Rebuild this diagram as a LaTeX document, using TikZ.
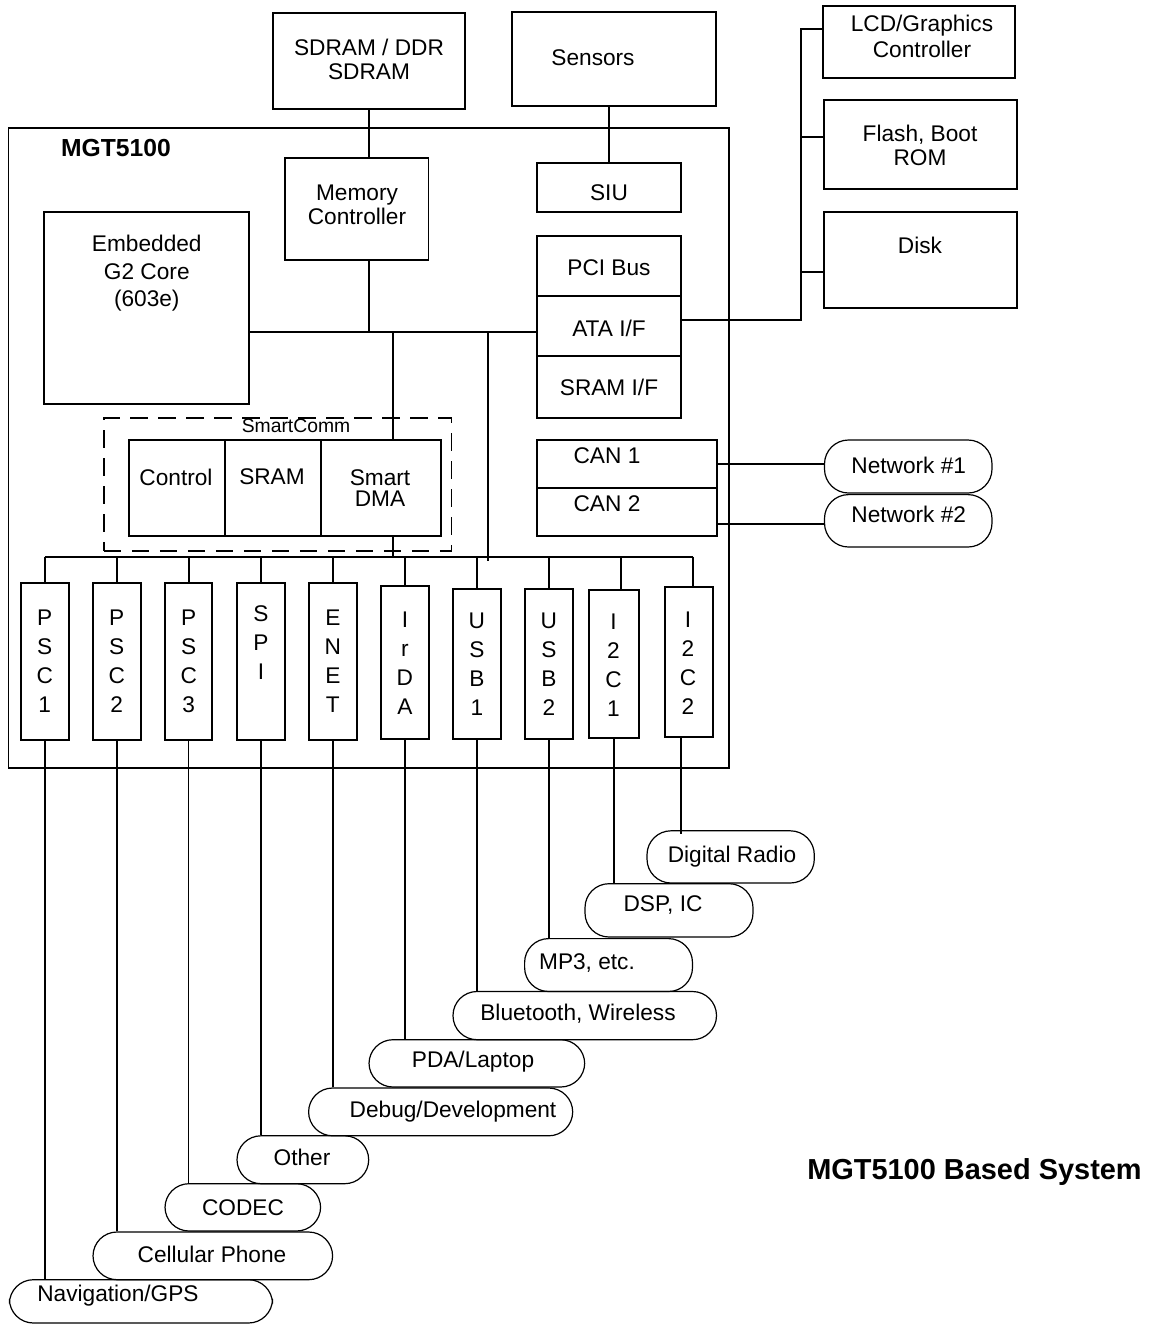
\documentclass[tikz,border=0pt]{standalone}
\usepackage{fontspec}
\setmainfont{Liberation Sans}
\usetikzlibrary{fit}
\begin{document}
\begin{tikzpicture}[x=0.75pt,y=-0.75pt,
  box/.style={draw, line width=1.4pt, inner sep=0pt},
  dbox/.style={draw, line width=1.3pt, inner sep=0pt, dash pattern=on 13pt off 8pt},
  oval/.style={draw, line width=0.9pt, inner sep=0pt, rounded corners=18pt},
  txt/.style={inner sep=0pt, align=center, font=\fontsize{17}{18}\selectfont},
  ltxt/.style={inner sep=0pt, align=center, font=\fontsize{17}{21.75}\selectfont},
  wire/.style={line width=1.4pt},
  twire/.style={line width=1.1pt}]
\useasboundingbox (0,0) rectangle (1151,1325);

% ---------- top external boxes
\node[box, fit={(273,13)(465,109)}] (sdram) {};
\node[txt] (sdram-t) at (369,59) {SDRAM / DDR\\SDRAM};
\node[box, fit={(512,12)(716,106)}] (sensors) {};
\node[txt] (sensors-t) at (593,58) {Sensors};
\node[box, fit={(823,6)(1015,78)}] (lcd) {};
\node[txt, font=\fontsize{17}{19.5}\selectfont] (lcd-t) at (922,36) {LCD/Graphics\\Controller};
\node[box, fit={(824,100)(1017,189)}] (flash) {};
\node[txt] (flash-t) at (920,145.5) {Flash, Boot\\ROM};
\node[box, fit={(824,212)(1017,308)}] (disk) {};
\node[txt] (disk-t) at (920,245) {Disk};

% ---------- MGT5100 chip
\node[box, fit={(8.5,127.7)(729,767.7)}] (chip) {};
\node[inner sep=0pt, font=\fontsize{18.5}{20}\selectfont\bfseries] (chip-t) at (116,148) {MGT5100};

\node[box, fit={(285,158)(428.5,260)}] (memctl) {};
\node[txt] (memctl-t) at (357,205) {Memory\\Controller};
\node[box, fit={(44.4,211.7)(248.7,404)}] (embedded) {};
\node[txt, font=\fontsize{17}{20.6}\selectfont] (embedded-t) at (146.8,273.5) {Embedded\\G2 Core\\(603e)};

\node[box, fit={(537,163)(681,212)}] (siu) {};
\node[txt] (siu-t) at (609,192.7) {SIU};
\node[box, fit={(537,236)(681,296)}] (pci) {};
\node[txt] (pci-t) at (609,268) {PCI Bus};
\node[box, fit={(537,296)(681,356)}] (ata) {};
\node[txt] (ata-t) at (609,328) {ATA I/F};
\node[box, fit={(537,356)(681,418)}] (sramif) {};
\node[txt] (sramif-t) at (609,387.7) {SRAM I/F};

\node[box, fit={(537,440)(717,488)}] (can1) {};
\node[txt] (can1-t) at (607,456) {CAN 1};
\node[box, fit={(537,488)(717,536)}] (can2) {};
\node[txt] (can2-t) at (607,504) {CAN 2};

\node[oval, fit={(824.5,440)(992,493)}] (net1) {};
\node[txt] (net1-t) at (908.7,465) {Network \#1};
\node[oval, fit={(824.5,494.6)(992,547)}] (net2) {};
\node[txt] (net2-t) at (908.7,514) {Network \#2};

% ---------- SmartComm
\node[dbox, fit={(103.8,418.3)(451.6,550.7)}] (smartcomm) {};
\node[inner sep=0pt, font=\fontsize{14.5}{15}\selectfont] (smartcomm-t) at (296,426) {SmartComm};
\node[box, fit={(128.8,440)(225,535.7)}] (control) {};
\node[txt] (control-t) at (176,477) {Control};
\node[box, fit={(225,440)(321,535.7)}] (ssram) {};
\node[txt] (ssram-t) at (272,477) {SRAM};
\node[box, fit={(321,440)(440.8,535.7)}] (sdma) {};
\node[txt, font=\fontsize{17}{15.75}\selectfont] (sdma-t) at (380,488) {Smart\\DMA};

% ---------- peripherals
\node[box, fit={(20.8,583.3)(68.9,740)}] (psc1) {};
\node[ltxt] (psc1-t) at (44.8,661) {P\\S\\C\\1};
\node[box, fit={(93,583.3)(140.6,740)}] (psc2) {};
\node[ltxt] (psc2-t) at (116.8,661) {P\\S\\C\\2};
\node[box, fit={(165,583.3)(212.4,740)}] (psc3) {};
\node[ltxt] (psc3-t) at (188.7,661) {P\\S\\C\\3};
\node[box, fit={(237,583.3)(285,740)}] (spi) {};
\node[ltxt, anchor=north] (spi-t) at (261,605) {S\\P\\I};
\node[box, fit={(309,583.3)(356.8,740)}] (enet) {};
\node[ltxt] (enet-t) at (332.9,661) {E\\N\\E\\T};
\node[box, fit={(380.8,586)(429,739)}] (irda) {};
\node[ltxt] (irda-t) at (404.9,663) {I\\r\\D\\A};
\node[box, fit={(453,589)(500.7,739)}] (usb1) {};
\node[ltxt] (usb1-t) at (476.9,664) {U\\S\\B\\1};
\node[box, fit={(524.8,589)(573,739)}] (usb2) {};
\node[ltxt] (usb2-t) at (548.9,664) {U\\S\\B\\2};
\node[box, fit={(589,590)(639,737.7)}] (i2c1) {};
\node[ltxt] (i2c1-t) at (613.5,665) {I\\2\\C\\1};
\node[box, fit={(665.4,587.3)(712.6,736.7)}] (i2c2) {};
\node[ltxt] (i2c2-t) at (688,663) {I\\2\\C\\2};

% ---------- external ovals
\node[oval, fit={(647,830.8)(814.3,883)}] (dradio) {};
\node[txt] (dradio-t) at (732,857) {Digital Radio};
\node[oval, fit={(585,883.7)(753,937)}] (dsp) {};
\node[txt] (dsp-t) at (663,905.5) {DSP, IC};
\node[oval, fit={(524.6,938.6)(692.5,991.5)}] (mp3) {};
\node[txt] (mp3-t) at (587,963) {MP3, etc.};
\node[oval, fit={(453,991.5)(716.5,1039.7)}] (bt) {};
\node[txt] (bt-t) at (578,1014) {Bluetooth, Wireless};
\node[oval, fit={(369,1039.7)(584.7,1087)}] (pda) {};
\node[txt] (pda-t) at (473,1062) {PDA/Laptop};
\node[oval, fit={(308.6,1088)(572.7,1135.8)}] (debug) {};
\node[txt] (debug-t) at (453,1111.5) {Debug/Development};
\node[oval, fit={(237,1135.8)(368.7,1183.7)}] (other) {};
\node[txt] (other-t) at (302,1157) {Other};
\node[oval, fit={(165,1183.7)(320.6,1231)}] (codec) {};
\node[txt] (codec-t) at (243,1207.5) {CODEC};
\node[oval, fit={(93,1232)(332.6,1279.7)}] (cell) {};
\node[txt] (cell-t) at (212,1254) {Cellular Phone};
\node[oval, fit={(9.4,1279.7)(272.5,1323)}] (nav) {};
\node[txt] (nav-t) at (118,1296) {Navigation/GPS};

\node[inner sep=0pt, font=\fontsize{21.7}{23}\selectfont\bfseries] (title) at (974.5,1172) {MGT5100 Based System};

% ---------- junction coordinates
\coordinate (busy) at (0,331.7);
\coordinate (j393) at (393,331.7);
\coordinate (j488) at (488.4,331.7);
\coordinate (lbL) at (44.8,556.7);
\coordinate (lbR) at (692.8,556.7);
\coordinate (i2c1top) at (621,590);
\coordinate (i2c2top) at (692.8,587.3);
\coordinate (i2c2bot) at (681,736.7);
\coordinate (riser) at (801,320);
\coordinate (lcdj) at (801,28.6);
\coordinate (flashj) at (801,136.8);
\coordinate (diskj) at (801,271.8);
\coordinate (c1) at (717,463.6);
\coordinate (c2) at (717,523.6);

% ---------- wires
\draw[wire] (sdram.south) -- (sdram.south |- memctl.north);
\draw[wire] (sdram.south |- memctl.south) -- (sdram.south |- busy);
\draw[wire] (siu.north |- sensors.south) -- (siu.north);
\draw[wire] (embedded.east |- busy) -- (ata.west |- busy);
\draw[wire] (j393) -- (j393 |- sdma.north);
\draw[wire] (j393 |- sdma.south) -- (j393 |- lbL);
\draw[wire] (j488) -- ([yshift=-3pt]j488 |- lbL);
\draw[wire] (lbL) -- (lbR);
\draw[wire] (psc1.north |- lbL) -- (psc1.north);
\draw[wire] (psc2.north |- lbL) -- (psc2.north);
\draw[wire] (psc3.north |- lbL) -- (psc3.north);
\draw[wire] (spi.north |- lbL) -- (spi.north);
\draw[wire] (enet.north |- lbL) -- (enet.north);
\draw[wire] (irda.north |- lbL) -- (irda.north);
\draw[wire] (usb1.north |- lbL) -- (usb1.north);
\draw[wire] (usb2.north |- lbL) -- (usb2.north);
\draw[wire] (i2c1top |- lbL) -- (i2c1top);
\draw[wire] (i2c2top |- lbL) -- (i2c2top);

\draw[wire] (ata.east |- riser) -- (riser) -- (lcdj) -- (lcdj -| lcd.west);
\draw[wire] (flashj) -- (flashj -| flash.west);
\draw[wire] (diskj) -- (diskj -| disk.west);
\draw[wire] (c1) -- (c1 -| net1.west);
\draw[wire] (c2) -- (c2 -| net2.west);

\draw[twire] (psc1.south) -- (psc1.south |- nav.north);
\draw[twire] (psc2.south) -- (psc2.south |- cell.north);
\draw[twire] (psc3.south) -- (psc3.south |- codec.north);
\draw[twire] (spi.south) -- (spi.south |- other.north);
\draw[twire] (enet.south) -- (enet.south |- debug.north);
\draw[twire] (irda.south) -- (irda.south |- pda.north);
\draw[twire] (usb1.south) -- (usb1.south |- bt.north);
\draw[twire] (usb2.south) -- (usb2.south |- mp3.north);
\draw[twire] (i2c1.south) -- (i2c1.south |- dsp.north);
\draw[twire] (i2c2bot) -- ([yshift=-3pt]i2c2bot |- dradio.north);
\end{tikzpicture}
\end{document}
